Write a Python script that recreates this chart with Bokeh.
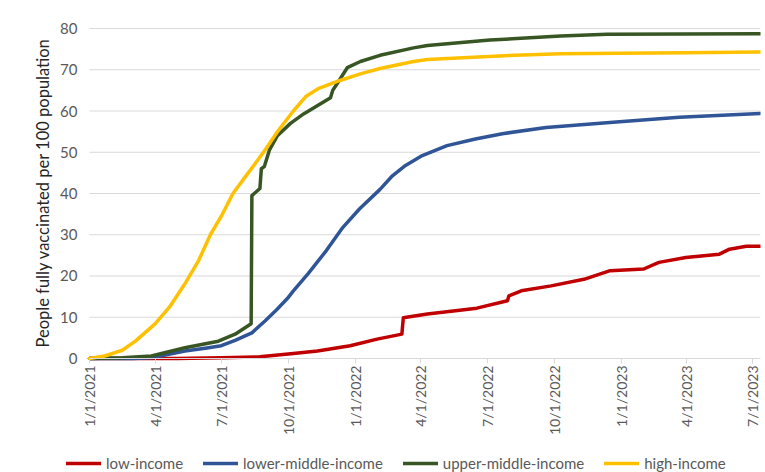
import math
import pandas as pd
from bokeh.plotting import figure
from bokeh.models import (ColumnDataSource, FixedTicker, CustomJSTickFormatter,
                          Range1d, Legend, LegendItem, DatetimeAxis, LinearAxis, Title)
from bokeh.embed import file_html
from bokeh.resources import INLINE

# ---------------- data ----------------
low_dates = ["2021-01-01", "2021-05-01", "2021-07-01", "2021-08-23", "2021-10-08",
             "2021-11-10", "2021-12-25", "2022-01-31", "2022-03-06", "2022-03-08",
             "2022-04-10", "2022-06-17", "2022-07-29", "2022-07-31", "2022-08-17",
             "2022-09-27", "2022-11-11", "2022-12-17", "2023-02-01", "2023-02-22",
             "2023-03-31", "2023-05-16", "2023-05-30", "2023-06-22", "2023-07-11"]
low_vals = [0, 0, 0.2, 0.4, 1.2, 1.8, 3.1, 4.7, 5.9, 9.9,
            10.8, 12.2, 14.0, 15.2, 16.4, 17.6, 19.2, 21.3, 21.7, 23.3,
            24.5, 25.3, 26.5, 27.2, 27.2]

lmid_dates = ["2021-01-01", "2021-03-01", "2021-03-27", "2021-04-20", "2021-05-12",
              "2021-06-09", "2021-07-01", "2021-07-20", "2021-08-12", "2021-08-30",
              "2021-09-15", "2021-10-01", "2021-10-08", "2021-10-28", "2021-11-22",
              "2021-12-15", "2022-01-07", "2022-02-04", "2022-02-21", "2022-03-11",
              "2022-04-03", "2022-05-07", "2022-06-15", "2022-07-22", "2022-09-20",
              "2022-12-21", "2023-03-22", "2023-07-11"]
lmid_vals = [0, 0, 0.2, 1.0, 1.8, 2.5, 3.1, 4.4, 6.2, 9.1,
             11.8, 14.8, 16.4, 20.5, 26.1, 31.8, 36.3, 41.0, 44.3, 46.8,
             49.2, 51.6, 53.2, 54.5, 56.0, 57.3, 58.5, 59.4]

umid_dates = ["2021-01-01", "2021-02-15", "2021-03-27", "2021-05-12", "2021-06-27",
              "2021-07-20", "2021-08-11", "2021-08-12", "2021-08-23", "2021-08-25",
              "2021-08-29", "2021-09-05", "2021-09-16", "2021-10-04", "2021-10-22",
              "2021-11-28", "2021-12-01", "2021-12-07", "2021-12-21", "2022-01-08",
              "2022-02-04", "2022-03-22", "2022-04-10", "2022-07-05", "2022-10-10",
              "2022-12-13", "2023-07-11"]
umid_vals = [0, 0.2, 0.6, 2.6, 4.2, 5.9, 8.4, 39.5, 41.2, 46.0,
             46.5, 50.5, 54.0, 57.0, 59.3, 63.2, 65.0, 66.6, 70.5, 72.0,
             73.5, 75.3, 75.9, 77.2, 78.2, 78.6, 78.7]

high_dates = ["2021-01-01", "2021-01-22", "2021-02-15", "2021-03-05", "2021-04-01",
              "2021-04-21", "2021-05-12", "2021-05-31", "2021-06-16", "2021-07-01",
              "2021-07-17", "2021-08-07", "2021-08-28", "2021-09-17", "2021-10-08",
              "2021-10-25", "2021-11-12", "2021-12-11", "2022-01-08", "2022-02-04",
              "2022-03-22", "2022-04-10", "2022-07-10", "2022-10-10", "2022-12-31",
              "2023-03-30", "2023-07-11"]
high_vals = [0, 0.6, 2.0, 4.2, 8.4, 12.5, 18.1, 23.8, 30.0, 34.5,
             40.0, 45.0, 50.0, 55.2, 60.0, 63.5, 65.5, 67.4, 69.0, 70.3,
             72.0, 72.5, 73.3, 73.9, 74.0, 74.1, 74.3]

series_names = ["low-income", "lower-middle-income", "upper-middle-income", "high-income"]
series_colors = ["#C00000", "#2F5597", "#375623", "#FFC000"]

x_tick_labels = ["1/1/2021", "4/1/2021", "7/1/2021", "10/1/2021", "1/1/2022",
                 "4/1/2022", "7/1/2022", "10/1/2022", "1/1/2023", "4/1/2023", "7/1/2023"]
y_ticks = [0, 10, 20, 30, 40, 50, 60, 70, 80]
y_label = "People fully vaccinated per 100 population"

FONT = "Lato"

tick_ts = [pd.to_datetime(t, format="%m/%d/%Y") for t in x_tick_labels]
tick_ms = [int(t.value // 10**6) for t in tick_ts]
x_start = tick_ts[0]
x_end = pd.Timestamp("2023-07-11 12:00")
x_end_ms = int(x_end.value // 10**6)

# ---------------- figure ----------------
# The frame covers the whole drawing area; both axes are fixed inside it
# (date axis at y = 0, value axis at 1/1/2021), so labels and legend are not clipped.
p = figure(width=765, height=472, x_axis_type="datetime",
           output_backend="svg", toolbar_location=None,
           min_border_left=55, min_border_right=5, min_border_top=0,
           min_border_bottom=0)
p.x_range = Range1d(x_start - pd.Timedelta(days=46.7), x_end)
p.y_range = Range1d(-27.64, 86.79)
p.outline_line_color = None
p.background_fill_color = "white"
p.border_fill_color = "white"
p.xgrid.visible = False
p.ygrid.visible = False
p.xaxis.visible = False
p.yaxis.visible = False

# horizontal gridlines over the plotted date span
p.segment(x0=[x_start] * len(y_ticks), x1=[x_end] * len(y_ticks),
          y0=y_ticks, y1=y_ticks, line_color="#D9D9D9", line_width=1)

renderers = []
for name, color, d, v in zip(series_names, series_colors,
                             [low_dates, lmid_dates, umid_dates, high_dates],
                             [low_vals, lmid_vals, umid_vals, high_vals]):
    src = ColumnDataSource(dict(x=pd.to_datetime(d), y=v))
    r = p.line("x", "y", source=src, line_color=color, line_width=3.5,
               line_join="round", line_cap="round")
    renderers.append(r)

# date axis, fixed at y = 0
xa = DatetimeAxis(fixed_location=0, bounds=(tick_ms[0], x_end_ms))
xa.ticker = FixedTicker(ticks=tick_ms)
xa.formatter = CustomJSTickFormatter(code="""
    const d = new Date(tick);
    return (d.getUTCMonth()+1) + "/" + d.getUTCDate() + "/" + d.getUTCFullYear();
""")
xa.major_label_orientation = math.pi / 2
xa.axis_line_color = "#D9D9D9"
xa.major_tick_line_color = "#D9D9D9"
xa.major_tick_out = 5
xa.major_tick_in = 0
xa.minor_tick_line_color = None
xa.major_label_standoff = 2
xa.major_label_text_font = FONT
xa.major_label_text_font_size = "14px"
xa.major_label_text_color = "#595959"
p.add_layout(xa, "below")

# value axis, fixed at 1/1/2021
ya = LinearAxis(fixed_location=tick_ms[0])
ya.ticker = FixedTicker(ticks=y_ticks)
ya.axis_line_color = None
ya.major_tick_line_color = None
ya.minor_tick_line_color = None
ya.major_tick_out = 0
ya.major_tick_in = 0
ya.major_label_standoff = 12
ya.major_label_text_font = FONT
ya.major_label_text_font_size = "15px"
ya.major_label_text_color = "#595959"
p.add_layout(ya, "left")

# value axis title, placed next to the 0-80 part of the axis
yt = Title(text=y_label, align="left", offset=125, standoff=6,
           text_font=FONT, text_font_size="16.5px", text_font_style="normal",
           text_color="#262626")
p.add_layout(yt, "left")

# legend below the date labels
legend = Legend(items=[LegendItem(label=n, renderers=[r]) for n, r in zip(series_names, renderers)],
                orientation="horizontal", location=(11, 0),
                glyph_width=35, glyph_height=14, label_standoff=5, spacing=20,
                padding=0, margin=0,
                label_text_font=FONT, label_text_font_size="15px",
                label_text_color="#595959",
                background_fill_alpha=0, border_line_alpha=0)
p.add_layout(legend, "center")

open("out.html", "w").write(file_html(p, INLINE))
